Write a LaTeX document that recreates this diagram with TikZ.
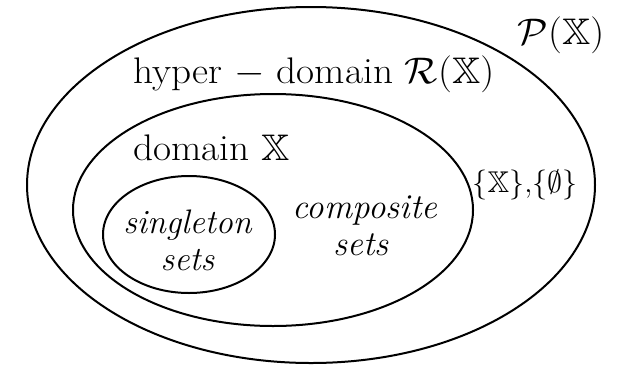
\RequirePackage{fix-cm}
\documentclass[tikz,border=0pt]{standalone}
\usepackage{amssymb}
\usepackage{fontspec}
\usetikzlibrary{shapes.geometric}
\tikzset{
  setoval/.style={ellipse, draw, line width=2pt, inner sep=0pt},
  bigtxt/.style={anchor=base, inner sep=0pt, font=\fontsize{37}{42}\selectfont, xscale=1.06, transform shape},
  itxt/.style={anchor=base, inner sep=0pt, font=\fontsize{35}{40}\selectfont\itshape},
  smalltxt/.style={anchor=base, inner sep=0pt, font=\fontsize{30}{35}\selectfont}
}
\begin{document}
\begin{tikzpicture}[x=1pt, y=-1pt]
\useasboundingbox (0,0) rectangle (618,365);
\node[setoval, minimum width=568pt, minimum height=356pt] (power) at (311,185) {};
\node[setoval, minimum width=400pt, minimum height=232pt] (hyper) at (273,210) {};
\node[setoval, minimum width=172pt, minimum height=117pt] (single) at (189,234.5) {};
\node[bigtxt] (ptxt) at (561,44) {$\mathcal{P}(\mathbb{X})$};
\node[bigtxt] (htxt) at (314,83) {hyper $-$ domain $\mathcal{R}(\mathbb{X})$};
\node[bigtxt] (dtxt) at (211.5,160) {domain $\mathbb{X}$};
\node[itxt, font=\fontsize{34}{40}\selectfont\itshape] (s1) at (187.5,233) {singleton};
\node[itxt, font=\fontsize{34}{40}\selectfont\itshape] (s2) at (187.5,270) {sets};
\node[itxt] (c1) at (365,218) {composite};
\node[itxt] (c2) at (361,255) {sets};
\node[smalltxt] (etxt) at (525,192) {$\{\mathbb{X}\},\!\{\emptyset\}$};
\end{tikzpicture}
\end{document}
